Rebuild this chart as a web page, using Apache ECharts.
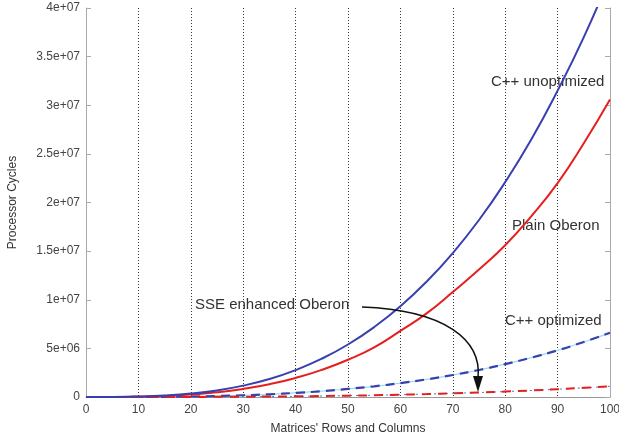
<!DOCTYPE html>
<html><head><meta charset="utf-8">
<script src="https://cdn.jsdelivr.net/npm/echarts@6/dist/echarts.min.js"></script>
<style>html,body{margin:0;padding:0;background:#fff}#c{width:619px;height:439px}</style>
</head><body><div id="c"></div>
<script>
const sizes = [0,5,10,15,20,25,30,35,40,45,50,55,60,65,70,75,80,85,90,95,100];
const cppUnopt = [0,5e3,45e3,0.15e6,0.35e6,0.68e6,1.17e6,1.85e6,2.77e6,3.94e6,5.4e6,7.19e6,9.33e6,11.86e6,14.8e6,18.2e6,22.1e6,26.5e6,31.5e6,37.0e6,43.2e6];
const plainOberon = [0,4e3,31e3,0.1e6,0.25e6,0.48e6,0.83e6,1.31e6,1.96e6,2.79e6,3.83e6,5.1e6,6.8e6,8.6e6,10.8e6,13.1e6,15.6e6,18.6e6,22.0e6,26.1e6,30.6e6];
const cppOpt = [0,1e3,6.6e3,22e3,53e3,0.1e6,0.18e6,0.28e6,0.42e6,0.6e6,0.83e6,1.1e6,1.43e6,1.81e6,2.26e6,2.78e6,3.38e6,4.05e6,4.8e6,5.66e6,6.6e6];
const sseOberon = [0,0,1e3,4e3,9e3,17e3,30e3,47e3,70e3,0.1e6,0.14e6,0.18e6,0.24e6,0.3e6,0.38e6,0.46e6,0.56e6,0.67e6,0.8e6,0.94e6,1.1e6];
const yTickLabels = ['0','5e+06','1e+07','1.5e+07','2e+07','2.5e+07','3e+07','3.5e+07','4e+07'];
const xTickLabels = ['0','10','20','30','40','50','60','70','80','90','100'];

const pts = a => sizes.map((s,i)=>[s,a[i]]);
const blue = '#3a3fae', red = '#e3201f';
const chart = echarts.init(document.getElementById('c'));
const ff = 'Liberation Sans, Arial, sans-serif';
chart.setOption({
  animation:false,
  grid:{left:86,right:9,top:8,bottom:42,containLabel:false,outerBoundsMode:'none'},
  xAxis:{type:'value',min:0,max:100,interval:10,
    name:"Matrices' Rows and Columns",nameLocation:'middle',nameGap:26,
    nameTextStyle:{fontFamily:ff,fontSize:12,color:'#333'},
    axisLine:{show:true,lineStyle:{color:'#999'}},axisTick:{show:false},
    axisLabel:{fontFamily:ff,fontSize:12,color:'#444',margin:7,formatter:(v)=>xTickLabels[Math.round(v/10)]},
    splitLine:{show:true,lineStyle:{color:'#333',type:[1,2],width:1}}},
  yAxis:[{type:'value',min:0,max:4e7,interval:5e6,
    name:'Processor Cycles',nameLocation:'middle',nameRotate:90,nameGap:67,
    nameTextStyle:{fontFamily:ff,fontSize:12,color:'#333'},
    axisLine:{show:true,lineStyle:{color:'#aaa'}},
    axisTick:{show:true,inside:true,length:5,lineStyle:{color:'#aaa'}},
    axisLabel:{fontFamily:ff,fontSize:12,color:'#444',margin:6,formatter:(v)=>yTickLabels[Math.round(v/5e6)]},
    splitLine:{show:false}},
   {type:'value',min:0,max:4e7,interval:5e6,position:'right',
    axisLine:{show:true,lineStyle:{color:'#aaa'}},
    axisTick:{show:true,inside:true,length:5,lineStyle:{color:'#aaa'}},
    axisLabel:{show:false},splitLine:{show:false}}],
  series:[
    {type:'line',name:'C++ optimized base',data:pts(cppOpt),symbol:'none',smooth:true,
      lineStyle:{color:'#8fe0e8',width:1.2},silent:true,z:2},
    {type:'line',name:'C++ optimized',data:pts(cppOpt),symbol:'none',smooth:true,
      lineStyle:{color:blue,width:2.2,type:[9,6]},z:3},
    {type:'line',name:'SSE base',data:pts(sseOberon),symbol:'none',smooth:true,
      lineStyle:{color:'#5a6fd0',width:1,type:[2,4]},silent:true,z:2},
    {type:'line',name:'SSE enhanced Oberon',data:pts(sseOberon),symbol:'none',smooth:true,
      lineStyle:{color:red,width:2,type:[9,7]},z:3},
    {type:'line',name:'Plain Oberon',data:pts(plainOberon),symbol:'none',smooth:true,
      lineStyle:{color:red,width:2},z:4},
    {type:'line',name:'C++ unoptimized',data:pts(cppUnopt),symbol:'none',smooth:true,clip:true,
      lineStyle:{color:blue,width:2},z:5}
  ],
  graphic:[
    {type:'text',left:491,top:74,style:{text:'C++ unoptimized',font:'15px '+ff,fill:'#333'}},
    {type:'text',left:512,top:218,style:{text:'Plain Oberon',font:'15px '+ff,fill:'#333'}},
    {type:'text',left:505,top:313,style:{text:'C++ optimized',font:'15px '+ff,fill:'#333'}},
    {type:'text',left:195,top:297,style:{text:'SSE enhanced Oberon',font:'15px '+ff,fill:'#333'}},
    {type:'bezierCurve',shape:{x1:362,y1:307,cpx1:445,cpy1:310,cpx2:482,cpy2:340,x2:478,y2:378},
      style:{stroke:'#111',lineWidth:1.5,fill:null},z:10},
    {type:'polygon',shape:{points:[[473,376],[483,376],[478,392]]},style:{fill:'#111'},z:10}
  ]
});
</script></body></html>
